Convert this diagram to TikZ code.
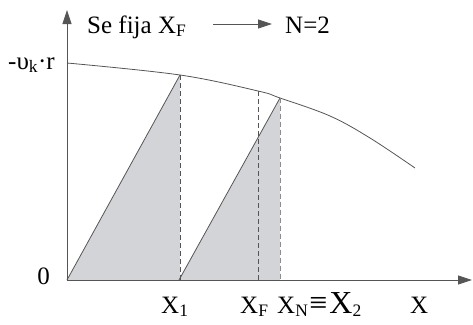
\documentclass[tikz,border=0pt]{standalone}
\usepackage{fontspec}
\setmainfont{Liberation Serif}
\usetikzlibrary{arrows.meta}
\definecolor{lineg}{RGB}{85,85,85}
\definecolor{fillg}{RGB}{211,212,215}
\definecolor{dashg}{RGB}{140,140,140}
\tikzset{
  axis/.style={draw=lineg, line width=0.8pt, -{Triangle[length=14pt,width=9pt]}},
  edge/.style={draw=lineg, line width=0.8pt},
  dline/.style={draw=lineg, line width=0.8pt, dash pattern=on 5pt off 3pt},
  dlinel/.style={draw=dashg, line width=1pt, dash pattern=on 5pt off 3pt},
  lab/.style={inner sep=0pt, font=\fontsize{25}{28}\selectfont},
  shade/.style={fill=fillg, draw=none}
}
\begin{document}
\begin{tikzpicture}[x=1pt,y=-1pt]
\useasboundingbox (0,0) rectangle (473,324);
% key points
\coordinate (O) at (67,280);
\coordinate (ytip) at (67,10);
\coordinate (xtip) at (472,280);
\coordinate (p1) at (180,75);
\coordinate (pF) at (258,91);
\coordinate (p2) at (280,98);
\coordinate (b1) at (180,280);
\coordinate (b1s) at (179,280);
\coordinate (bF) at (258,280);
\coordinate (b2) at (280,280);
% fills
\path[shade] (O) -- (p1) -- (b1) -- cycle;
\path[shade] (b1s) -- (p2) -- (b2) -- cycle;
% curve
\draw[edge] plot[smooth, tension=0.6] coordinates {(67,63) (180,75) (258,91) (280,98) (330,116) (370,138) (415,168)};
% slanted edges
\draw[edge] (O) -- (p1);
\draw[edge] (b1s) -- (p2);
% dashed verticals
\draw[dline] (p1) -- (b1);
\draw[dline] (pF) -- (bF);
\draw[dlinel] (p2) -- (b2);
% axes
\draw[axis] (O) -- (ytip);
\draw[axis] (O) -- (xtip);
% labels
\node[lab, anchor=base west] (title) at (87,33) {Se fija X\textsubscript{F}};
\coordinate (as) at (213,24);
\coordinate (ae) at (272,24);
\draw[draw=lineg, line width=0.8pt, -{Triangle[length=14pt,width=9pt]}] (as) -- (ae);
\node[lab, anchor=base west] (n2) at (285,33) {N=2};
\node[lab, anchor=base east] (vk) at (55,69) {-υ\textsubscript{k}·r};
\node[lab, anchor=base east] (zero) at (50,284) {0};
\node[lab, anchor=base west] (x1) at (161,313) {X\textsubscript{1}};
\node[lab, anchor=base west] (xf) at (240,313) {X\textsubscript{F}};
\node[lab, anchor=base west] (xn) at (277,313) {X\textsubscript{N}\kern1pt{\fontsize{32}{34}\selectfont ≡\kern2pt X}\textsubscript{2}};
\node[lab, anchor=base west] (xx) at (410,313) {X};
\end{tikzpicture}
\end{document}
